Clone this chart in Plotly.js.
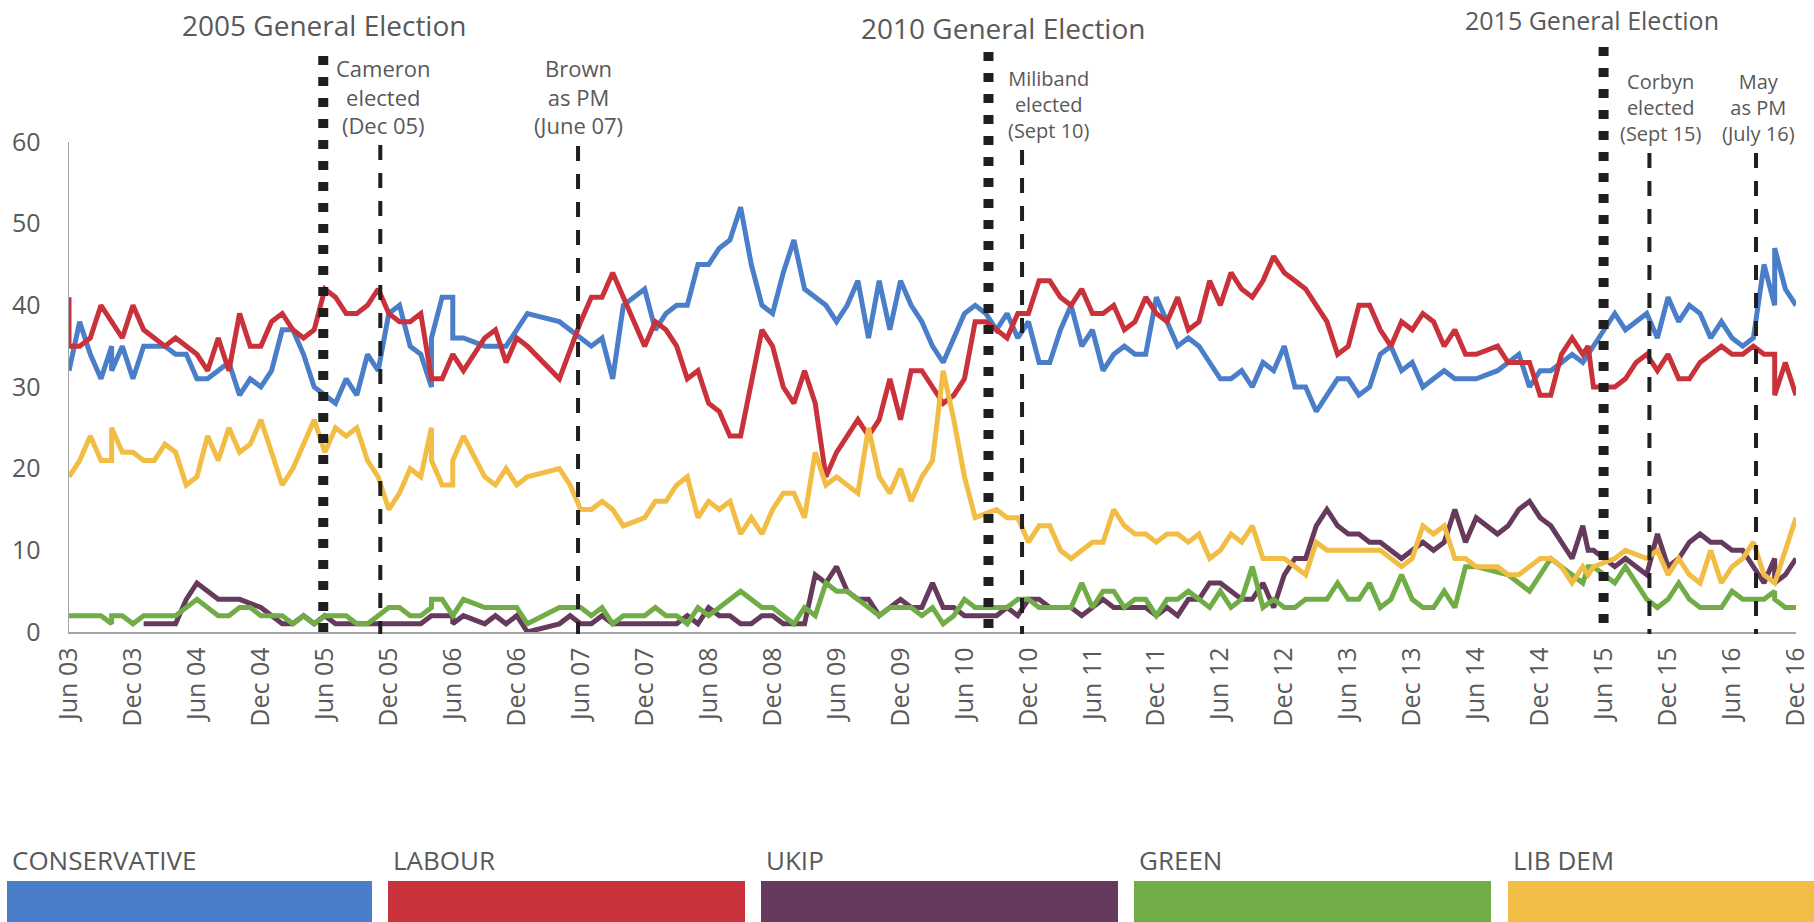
<!DOCTYPE html>
<html><head><meta charset="utf-8">
<script src="https://cdn.plot.ly/plotly-3.0.1.min.js"></script>
<style>html,body{margin:0;padding:0;background:#fff}#chart{width:1814px;height:922px}</style>
</head><body><div id="chart"></div>
<script>
// ---------- DATA (x = months since June 2003) ----------
const tickMonths = [0,6,12,18,24,30,36,42,48,54,60,66,72,78,84,90,96,102,108,114,120,126,132,138,144,150,156,162];
const tickLabels = ['Jun 03','Dec 03','Jun 04','Dec 04','Jun 05','Dec 05','Jun 06','Dec 06','Jun 07','Dec 07','Jun 08','Dec 08','Jun 09','Dec 09','Jun 10','Dec 10','Jun 11','Dec 11','Jun 12','Dec 12','Jun 13','Dec 13','Jun 14','Dec 14','Jun 15','Dec 15','Jun 16','Dec 16'];

const conMonth = [
0,1,2,3,4,4,5,6,7,8,9,10,11,12,13,
15,16,17,18,19,20,21,22,23,24,25,26,27,28,29,30,31,32,33,34,34,
35,36,36,37,39,41,43,46,
48,49,50,51,52,
54,55,56,57,58,59,60,61,62,63,
64,65,66,67,68,69,70,71,72,73,
74,75,76,77,78,79,80,81,82,83,
84,85,86,87,88,89,90,91,92,93,
94,95,96,97,98,99,100,101,102,103,
104,105,106,107,108,109,110,111,112,113,
114,115,116,117,118,119,120,121,122,123,
124,125,126,127,128,129,130,131,132,
134,135,136,137,138,139,140,141,142,143,
144,145,146,147,148,149,150,151,152,153,
154,155,156,157,158,159,160,160,161,162];
const conservative = [
32,38,34,31,35,32,35,31,35,35,35,34,34,31,31,
33,29,31,30,32,37,37,34,30,29,28,31,29,34,32,39,40,35,34,30,36,
41,41,36,36,35,35,39,38,
36,35,36,31,40,
42,37,39,40,40,45,45,47,48,52,
45,40,39,44,48,42,41,40,38,40,
43,36,43,37,43,40,38,35,33,36,
39,40,39,37,39,36,38,33,33,37,
40,35,37,32,34,35,34,34,41,38,
35,36,35,33,31,31,32,30,33,32,
35,30,30,27,29,31,31,29,30,34,
35,32,33,30,31,32,31,31,31,
32,33,34,30,32,32,33,34,33,35,
37,39,37,38,39,36,41,38,40,39,
36,38,36,35,36,45,40,47,42,40];

const labMonth = [
0,0,1,2,3,5,6,7,8,9,10,11,12,13,14,15,16,17,18,19,20,21,22,23,
24,25,26,27,28,29,30,31,32,33,34,35,36,37,39,40,41,42,43,46,
48,49,50,51,52,53,54,55,56,57,58,59,60,61,62,63,
65,66,67,68,69,70,71,72,73,74,75,76,77,78,79,80,81,82,83,
84,85,86,87,88,89,90,91,92,93,94,95,96,97,98,99,100,101,102,103,
104,105,106,107,108,109,110,111,112,113,114,115,116,117,118,119,120,121,122,123,
124,125,126,127,128,129,130,131,132,134,135,137,138,139,140,141,142,142.5,143,
145,146,147,148,149,150,151,152,153,154,155,156,157,158,159,160,160,161,162];
const labour = [
41,35,35,36,40,36,40,37,36,35,36,35,34,32,36,32,39,35,35,38,39,37,36,37,
42,41,39,39,40,42,39,38,38,39,31,31,34,32,36,37,33,36,35,31,
38,41,41,44,41,38,35,38,37,35,31,32,28,27,24,24,
37,35,30,28,32,28,19,22,24,26,24,26,31,26,32,32,30,28,29,
31,38,38,37,36,39,39,43,43,41,40,42,39,39,40,37,38,41,39,38,
41,37,38,43,40,44,42,41,43,46,44,43,42,40,38,34,35,40,40,37,
35,38,37,39,38,35,37,34,34,35,33,33,29,29,34,36,34,35,30,
30,31,33,34,32,34,31,31,33,34,35,34,34,35,34,34,29,33,29];

const ukipMonth = [
7,10,11,12,14,16,18,19,20,21,22,23,24,25,33,34,36,36,37,39,40,41,42,43,46,47,
48,49,50,51,57,58,59,60,61,62,63,64,65,66,67,68,69,70,71,72,73,74,75,76,77,78,79,80,81,82,83,
84,85,87,88,89,90,91,92,94,95,96,97,98,99,100,101,102,103,
104,105,106,107,108,109,110,111,112,113,114,115,116,117,118,119,120,121,122,123,
124,125,126,127,128,129,130,131,132,134,135,136,137,138,139,140,141,142,142.5,143,
144,145,146,147,148,149,150,151,152,153,154,155,156,157,158,159,160,160,161,162];
const ukip = [
1,1,4,6,4,4,3,2,1,1,2,1,2,1,1,2,2,1,2,1,2,1,2,0,1,2,
1,1,2,1,1,2,1,3,2,2,1,1,2,2,1,1,1,7,6,8,5,4,4,2,3,4,3,3,6,3,3,
2,2,2,3,2,4,4,3,3,2,3,4,3,3,3,3,2,3,
2,4,4,6,6,5,4,4,6,3,7,9,9,13,15,13,12,12,11,11,
10,9,10,11,10,11,15,11,14,12,13,15,16,14,13,11,9,13,10,10,
9,8,9,8,7,12,8,9,11,12,11,11,10,10,8,6,9,6,7,9];

const greenMonth = [
0,1,3,4,4,5,6,7,10,12,14,15,16,17,18,20,21,22,23,
24,26,27,28,29,30,31,32,33,34,34,35,36,37,39,42,43,46,
48,49,50,51,52,54,55,56,57,58,59,60,63,65,66,68,69,70,71,72,73,75,76,77,79,80,81,82,83,
84,85,88,89,90,91,94,95,96,97,98,99,100,101,102,103,
104,105,106,107,108,109,110,111,112,113,114,115,116,118,119,120,121,122,123,
124,125,126,127,128,129,130,131,132,135,137,139,140,142,142.5,143,
144,145,146,147,148,149,150,151,152,153,155,156,157,159,160,160,161,162];
const green = [
2,2,2,1,2,2,1,2,2,4,2,2,3,3,2,2,1,2,1,
2,2,1,1,2,3,3,2,2,3,4,4,2,4,3,3,1,3,
3,2,3,1,2,2,3,2,2,1,3,2,5,3,3,1,3,2,6,5,5,3,2,3,3,2,3,1,2,
4,3,3,4,4,3,3,6,3,5,5,3,4,4,2,4,
4,5,4,3,5,3,4,8,3,4,3,3,4,4,6,4,4,6,3,
4,7,4,3,3,5,3,8,8,7,5,9,8,6,8,8,
7,6,8,6,4,3,4,6,4,3,3,5,4,4,5,4,3,3];

const libdemMonth = [
0,1,2,3,4,4,5,6,7,8,9,10,11,12,13,14,15,16,17,18,20,21,22,23,
24,25,26,27,28,29,30,31,32,33,34,34,35,36,36,37,39,40,41,42,43,46,47,
48,49,50,51,52,54,55,56,57,58,59,60,61,62,63,64,65,66,67,68,69,70,71,72,73,74,75,76,77,78,79,80,81,82,83,
84,85,87,88,89,90,91,92,93,94,95,96,97,98,99,100,101,102,103,
104,105,106,107,108,109,110,111,112,114,116,117,118,123,
124,125,126,127,128,129,130,131,132,134,135,136,138,139,140,141,142,142.5,143,
145,146,148,149,150,151,152,153,154,155,156,157,158,159,160,161,162];
const libdem = [
19,21,24,21,21,25,22,22,21,21,23,22,18,19,24,21,25,22,23,26,18,20,23,26,
22,25,24,25,21,19,15,17,20,19,25,21,18,18,21,24,19,18,20,18,19,20,18,
15,15,16,15,13,14,16,16,18,19,14,16,15,16,12,14,12,15,17,17,14,22,18,19,18,17,25,19,17,20,16,19,21,32,26,
19,14,15,14,14,11,13,13,10,9,10,11,11,15,13,12,12,11,12,
12,11,12,9,10,12,11,13,9,9,7,11,10,10,
9,8,9,13,12,13,9,9,8,8,7,7,9,9,8,6,8,7,8,
9,10,9,10,7,9,7,6,10,6,8,9,11,7,6,10,14];

const partyNames = ['CONSERVATIVE','LABOUR','UKIP','GREEN','LIB DEM'];
const partyColors = ['#4a7ec9','#c9323b','#663a5c','#70ad47','#f2bd44'];

// events (month position of vertical markers)
const electionLabels = ['2005 General Election','2010 General Election','2015 General Election'];
const electionMonths = [23.85, 86.25, 143.95];
const eventLabels = ['Cameron<br>elected<br>(Dec 05)','Brown<br>as PM<br>(June 07)','Miliband<br>elected<br>(Sept 10)','Corbyn<br>elected<br>(Sept 15)','May<br>as PM<br>(July 16)'];
const eventMonths = [29.2, 47.75, 89.4, 148.25, 158.25];

// ---------- LAYOUT HELPERS (pixels) ----------
const W = 1814, H = 922, L = 69, R = 18, T = 142, B = 290;
const PW = W - L - R, PH = H - T - B, Y0 = H - B;
const px = x => (x - L) / PW;
const py = y => (Y0 - y) / PH;
const textColor = '#595959';
const FONT = '"Open Sans", "Noto Sans", sans-serif';

const xs = [conMonth, labMonth, ukipMonth, greenMonth, libdemMonth];
const ys = [conservative, labour, ukip, green, libdem];
const traces = xs.map((x, i) => ({
  type: 'scatter', mode: 'lines', x: x, y: ys[i], name: partyNames[i],
  line: {color: partyColors[i], width: 5, shape: 'linear'},
  cliponaxis: false, hoverinfo: 'skip', showlegend: false
}));

const shapes = [];
const annotations = [];

// election lines (heavy square dots) + titles
const elecTopPx = [56, 52, 47];
const elecTitleX = [23.9, 87.6, 142.9];
const elecTitleY = [25, 28, 20];
const elecTitleSize = [28, 28, 25];
electionMonths.forEach((m, i) => {
  shapes.push({type: 'line', xref: 'x', yref: 'paper', x0: m, x1: m, y0: py(elecTopPx[i]), y1: py(632),
    line: {color: '#1f1f1f', width: 10, dash: '9px,12px'}, layer: 'above'});
  annotations.push({xref: 'x', yref: 'paper', x: elecTitleX[i], y: py(elecTitleY[i]), text: electionLabels[i],
    showarrow: false, xanchor: 'center', yanchor: 'middle', font: {family: FONT, size: elecTitleSize[i], color: textColor}});
});

// event dashed lines + labels
const evTopPx = [145, 146, 150, 153, 153];
const evLabelX = [29.5, 47.8, 91.9, 149.3, 158.5];
const evLabelY = [96, 96, 104.5, 107.5, 107.5];
const evLabelSize = [22, 22, 20, 20, 20];
eventMonths.forEach((m, i) => {
  shapes.push({type: 'line', xref: 'x', yref: 'paper', x0: m, x1: m, y0: py(evTopPx[i]), y1: py(634),
    line: {color: '#1f1f1f', width: 4, dash: '15px,13px'}, layer: 'above'});
  annotations.push({xref: 'x', yref: 'paper', x: evLabelX[i], y: py(evLabelY[i]), text: eventLabels[i],
    showarrow: false, xanchor: 'center', yanchor: 'middle', align: 'center',
    font: {family: FONT, size: evLabelSize[i], color: textColor}});
});

// custom legend: label above a wide colour bar
const legLeft = [7, 388, 761, 1134, 1508];
const legRight = [372, 745, 1118, 1491, 1814];
partyNames.forEach((n, i) => {
  shapes.push({type: 'rect', xref: 'paper', yref: 'paper', x0: px(legLeft[i]), x1: px(legRight[i]),
    y0: py(881), y1: py(922), fillcolor: partyColors[i], line: {width: 0}, layer: 'above'});
  annotations.push({xref: 'paper', yref: 'paper', x: px(legLeft[i] + 3), y: py(860), text: n,
    showarrow: false, xanchor: 'left', yanchor: 'middle', font: {family: FONT, size: 26, color: textColor}});
});

const layout = {
  width: W, height: H,
  margin: {l: L, r: R, t: T, b: B, pad: 0},
  paper_bgcolor: '#ffffff', plot_bgcolor: '#ffffff',
  font: {family: FONT, color: textColor},
  showlegend: false,
  xaxis: {
    type: 'linear', range: [0, 162], fixedrange: true,
    tickmode: 'array', tickvals: tickMonths, ticktext: tickLabels, tickangle: -90,
    ticks: '', showgrid: false, zeroline: false,
    showline: true, linecolor: '#a6a6a6', linewidth: 1.5,
    tickfont: {family: FONT, size: 25, color: textColor}, ticklabelstandoff: 4
  },
  yaxis: {
    range: [0, 60], dtick: 10, tick0: 0, fixedrange: true,
    ticks: '', showgrid: false, zeroline: false,
    showline: true, linecolor: '#a6a6a6', linewidth: 1.5,
    tickfont: {family: FONT, size: 25, color: textColor}, ticklabelstandoff: 22
  },
  shapes: shapes,
  annotations: annotations
};

Plotly.newPlot('chart', traces, layout, {displayModeBar: false, staticPlot: true});
</script>
</body></html>
